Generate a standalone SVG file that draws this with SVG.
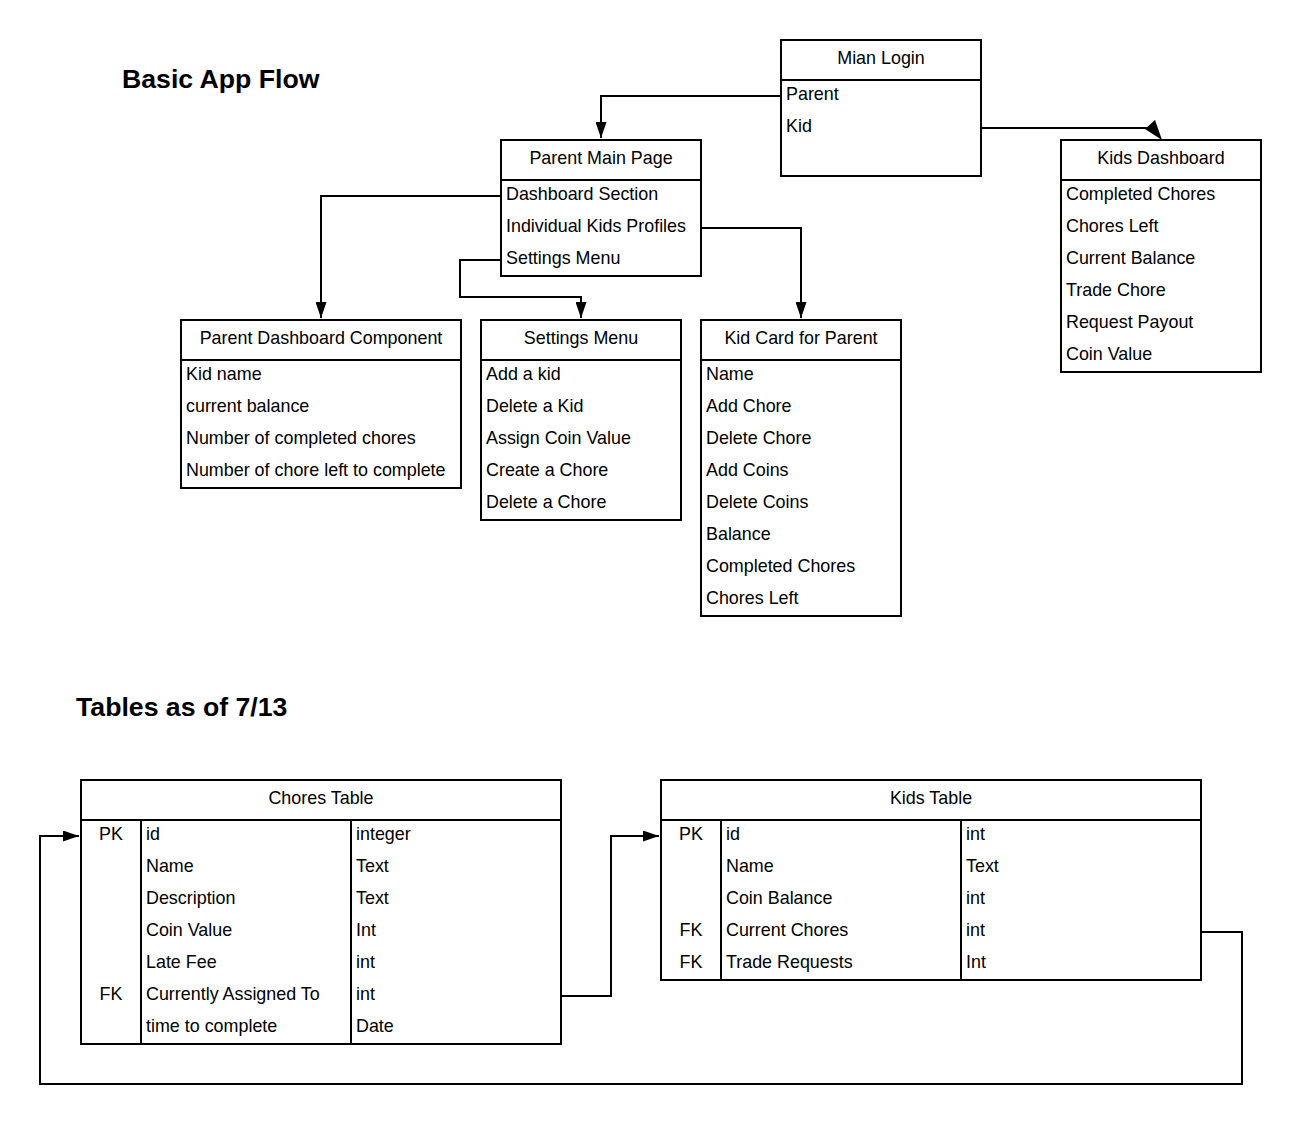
<svg xmlns="http://www.w3.org/2000/svg" width="1301" height="1124" viewBox="0 0 1301 1124">
<style>
.box{fill:#fff;stroke:#000;stroke-width:2}
.ln{fill:none;stroke:#000;stroke-width:2}
.t{font-family:"Liberation Sans",Arial,sans-serif;font-size:17.9px;fill:#000}
.c{text-anchor:middle}
.h{font-family:"Liberation Sans",Arial,sans-serif;font-size:26.67px;font-weight:bold;fill:#000}
.con{fill:none;stroke:#000;stroke-width:2}
</style>
<defs>
<marker id="ah" viewBox="0 0 16 11" refX="16" refY="5.5" markerWidth="16" markerHeight="11" markerUnits="userSpaceOnUse" orient="auto">
<path d="M0,0 L16,5.5 L0,11 Z" fill="#000"/>
</marker>
</defs>
<rect width="1301" height="1124" fill="#fff"/>
<text class="h" x="122" y="88">Basic App Flow</text>
<text class="h" x="76" y="716">Tables as of 7/13</text>

<g id="connectors">
<path class="con" d="M781,96 H601 V138" marker-end="url(#ah)"/>
<path class="con" d="M981,128 H1148"/>
<polygon points="1145,129 1155,120 1162,140" fill="#000"/>
<path class="con" d="M501,196 H321 V318" marker-end="url(#ah)"/>
<path class="con" d="M501,260 H460 V297 H581 V318" marker-end="url(#ah)"/>
<path class="con" d="M701,228 H801 V318" marker-end="url(#ah)"/>
<path class="con" d="M561,996 H611 V836 H659" marker-end="url(#ah)"/>
<path class="con" d="M1201,932 H1242 V1084 H40 V836 H79" marker-end="url(#ah)"/>
</g>

<g id="mian-login">
<rect class="box" x="781" y="40" width="200" height="136"/>
<line class="ln" x1="781" y1="80" x2="981" y2="80"/>
<text class="t c" x="881" y="64">Mian Login</text>
<text class="t" x="786" y="100">Parent</text>
<text class="t" x="786" y="132">Kid</text>
</g>

<g id="parent-main-page">
<rect class="box" x="501" y="140" width="200" height="136"/>
<line class="ln" x1="501" y1="180" x2="701" y2="180"/>
<text class="t c" x="601" y="164">Parent Main Page</text>
<text class="t" x="506" y="200">Dashboard Section</text>
<text class="t" x="506" y="232">Individual Kids Profiles</text>
<text class="t" x="506" y="264">Settings Menu</text>
</g>

<g id="kids-dashboard">
<rect class="box" x="1061" y="140" width="200" height="232"/>
<line class="ln" x1="1061" y1="180" x2="1261" y2="180"/>
<text class="t c" x="1161" y="164">Kids Dashboard</text>
<text class="t" x="1066" y="200">Completed Chores</text>
<text class="t" x="1066" y="232">Chores Left</text>
<text class="t" x="1066" y="264">Current Balance</text>
<text class="t" x="1066" y="296">Trade Chore</text>
<text class="t" x="1066" y="328">Request Payout</text>
<text class="t" x="1066" y="360">Coin Value</text>
</g>

<g id="parent-dashboard-component">
<rect class="box" x="181" y="320" width="280" height="168"/>
<line class="ln" x1="181" y1="360" x2="461" y2="360"/>
<text class="t c" x="321" y="344">Parent Dashboard Component</text>
<text class="t" x="186" y="380">Kid name</text>
<text class="t" x="186" y="412">current balance</text>
<text class="t" x="186" y="444">Number of completed chores</text>
<text class="t" x="186" y="476">Number of chore left to complete</text>
</g>

<g id="settings-menu">
<rect class="box" x="481" y="320" width="200" height="200"/>
<line class="ln" x1="481" y1="360" x2="681" y2="360"/>
<text class="t c" x="581" y="344">Settings Menu</text>
<text class="t" x="486" y="380">Add a kid</text>
<text class="t" x="486" y="412">Delete a Kid</text>
<text class="t" x="486" y="444">Assign Coin Value</text>
<text class="t" x="486" y="476">Create a Chore</text>
<text class="t" x="486" y="508">Delete a Chore</text>
</g>

<g id="kid-card-for-parent">
<rect class="box" x="701" y="320" width="200" height="296"/>
<line class="ln" x1="701" y1="360" x2="901" y2="360"/>
<text class="t c" x="801" y="344">Kid Card for Parent</text>
<text class="t" x="706" y="380">Name</text>
<text class="t" x="706" y="412">Add Chore</text>
<text class="t" x="706" y="444">Delete Chore</text>
<text class="t" x="706" y="476">Add Coins</text>
<text class="t" x="706" y="508">Delete Coins</text>
<text class="t" x="706" y="540">Balance</text>
<text class="t" x="706" y="572">Completed Chores</text>
<text class="t" x="706" y="604">Chores Left</text>
</g>

<g id="chores-table">
<rect class="box" x="81" y="780" width="480" height="264"/>
<line class="ln" x1="81" y1="820" x2="561" y2="820"/>
<line class="ln" x1="141" y1="820" x2="141" y2="1044"/>
<line class="ln" x1="351" y1="820" x2="351" y2="1044"/>
<text class="t c" x="321" y="804">Chores Table</text>
<text class="t c" x="111" y="840">PK</text>
<text class="t c" x="111" y="1000">FK</text>
<text class="t" x="146" y="840">id</text>
<text class="t" x="146" y="872">Name</text>
<text class="t" x="146" y="904">Description</text>
<text class="t" x="146" y="936">Coin Value</text>
<text class="t" x="146" y="968">Late Fee</text>
<text class="t" x="146" y="1000">Currently Assigned To</text>
<text class="t" x="146" y="1032">time to complete</text>
<text class="t" x="356" y="840">integer</text>
<text class="t" x="356" y="872">Text</text>
<text class="t" x="356" y="904">Text</text>
<text class="t" x="356" y="936">Int</text>
<text class="t" x="356" y="968">int</text>
<text class="t" x="356" y="1000">int</text>
<text class="t" x="356" y="1032">Date</text>
</g>

<g id="kids-table">
<rect class="box" x="661" y="780" width="540" height="200"/>
<line class="ln" x1="661" y1="820" x2="1201" y2="820"/>
<line class="ln" x1="721" y1="820" x2="721" y2="980"/>
<line class="ln" x1="961" y1="820" x2="961" y2="980"/>
<text class="t c" x="931" y="804">Kids Table</text>
<text class="t c" x="691" y="840">PK</text>
<text class="t c" x="691" y="936">FK</text>
<text class="t c" x="691" y="968">FK</text>
<text class="t" x="726" y="840">id</text>
<text class="t" x="726" y="872">Name</text>
<text class="t" x="726" y="904">Coin Balance</text>
<text class="t" x="726" y="936">Current Chores</text>
<text class="t" x="726" y="968">Trade Requests</text>
<text class="t" x="966" y="840">int</text>
<text class="t" x="966" y="872">Text</text>
<text class="t" x="966" y="904">int</text>
<text class="t" x="966" y="936">int</text>
<text class="t" x="966" y="968">Int</text>
</g>
</svg>
